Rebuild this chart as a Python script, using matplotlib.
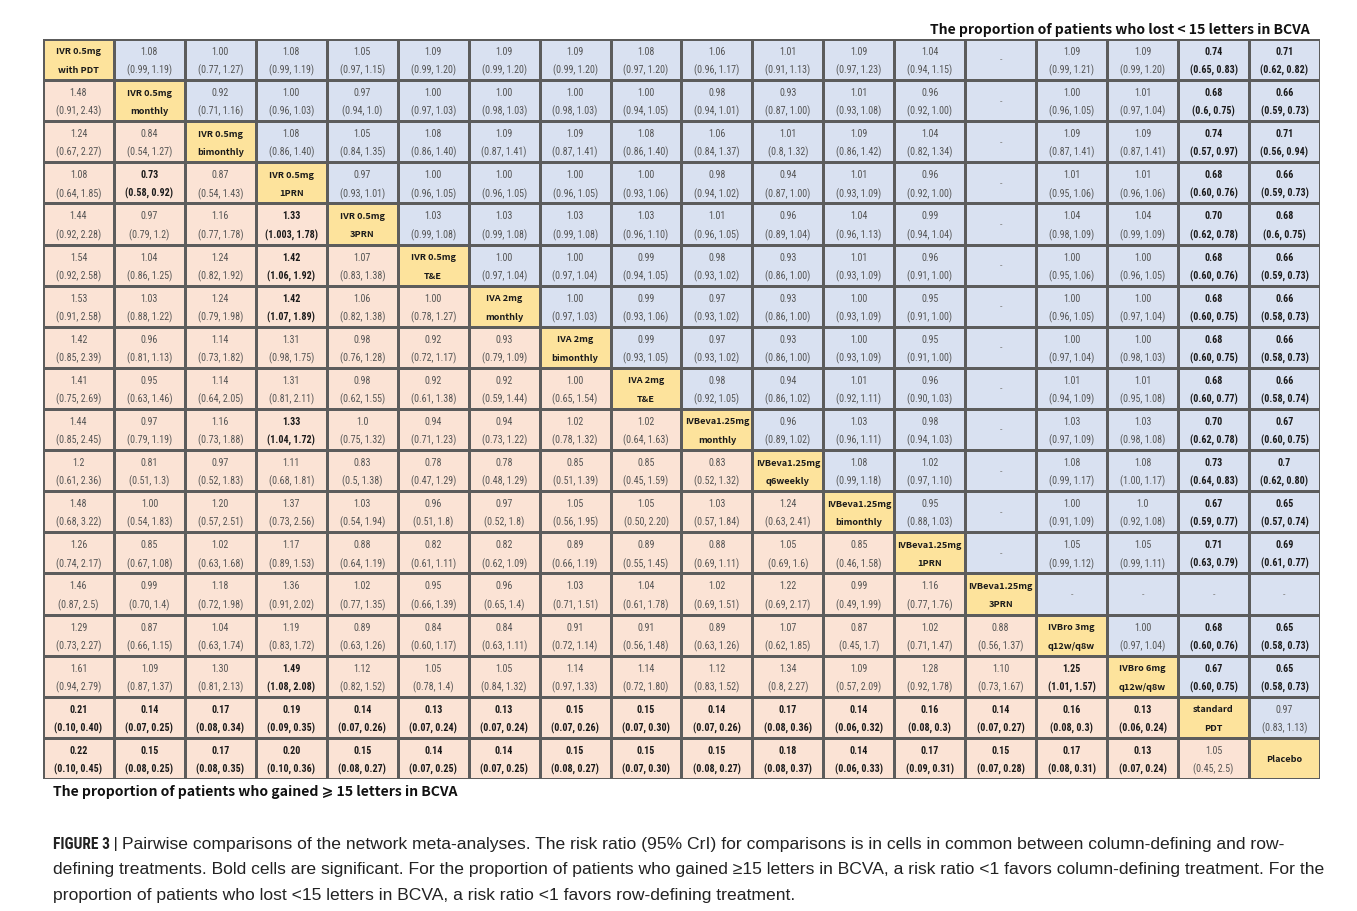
import numpy as np
import matplotlib
matplotlib.use("Agg")
import matplotlib.pyplot as plt
from matplotlib.colors import ListedColormap
from matplotlib import font_manager

# Treatments, in row/column order of the league table
treatments = [
    "IVR 0.5mg\nwith PDT", "IVR 0.5mg\nmonthly", "IVR 0.5mg\nbimonthly", "IVR 0.5mg\n1PRN",
    "IVR 0.5mg\n3PRN", "IVR 0.5mg\nT&E", "IVA 2mg\nmonthly", "IVA 2mg\nbimonthly",
    "IVA 2mg\nT&E", "IVBeva1.25mg\nmonthly", "IVBeva1.25mg\nq6weekly", "IVBeva1.25mg\nbimonthly",
    "IVBeva1.25mg\n1PRN", "IVBeva1.25mg\n3PRN", "IVBro 3mg\nq12w/q8w", "IVBro 6mg\nq12w/q8w",
    "standard\nPDT", "Placebo",
]

# Risk ratio "estimate,low,high"; "*" marks a significant result, "-" no estimate.
# Upper triangle: proportion of patients who lost < 15 letters (row i, columns i+1..)
lost_rr = [
    ["1.08,0.99,1.19", "1.00,0.77,1.27", "1.08,0.99,1.19", "1.05,0.97,1.15", "1.09,0.99,1.20", "1.09,0.99,1.20", "1.09,0.99,1.20", "1.08,0.97,1.20", "1.06,0.96,1.17", "1.01,0.91,1.13", "1.09,0.97,1.23", "1.04,0.94,1.15", "-", "1.09,0.99,1.21", "1.09,0.99,1.20", "*0.74,0.65,0.83", "*0.71,0.62,0.82"],
    ["0.92,0.71,1.16", "1.00,0.96,1.03", "0.97,0.94,1.0", "1.00,0.97,1.03", "1.00,0.98,1.03", "1.00,0.98,1.03", "1.00,0.94,1.05", "0.98,0.94,1.01", "0.93,0.87,1.00", "1.01,0.93,1.08", "0.96,0.92,1.00", "-", "1.00,0.96,1.05", "1.01,0.97,1.04", "*0.68,0.6,0.75", "*0.66,0.59,0.73"],
    ["1.08,0.86,1.40", "1.05,0.84,1.35", "1.08,0.86,1.40", "1.09,0.87,1.41", "1.09,0.87,1.41", "1.08,0.86,1.40", "1.06,0.84,1.37", "1.01,0.8,1.32", "1.09,0.86,1.42", "1.04,0.82,1.34", "-", "1.09,0.87,1.41", "1.09,0.87,1.41", "*0.74,0.57,0.97", "*0.71,0.56,0.94"],
    ["0.97,0.93,1.01", "1.00,0.96,1.05", "1.00,0.96,1.05", "1.00,0.96,1.05", "1.00,0.93,1.06", "0.98,0.94,1.02", "0.94,0.87,1.00", "1.01,0.93,1.09", "0.96,0.92,1.00", "-", "1.01,0.95,1.06", "1.01,0.96,1.06", "*0.68,0.60,0.76", "*0.66,0.59,0.73"],
    ["1.03,0.99,1.08", "1.03,0.99,1.08", "1.03,0.99,1.08", "1.03,0.96,1.10", "1.01,0.96,1.05", "0.96,0.89,1.04", "1.04,0.96,1.13", "0.99,0.94,1.04", "-", "1.04,0.98,1.09", "1.04,0.99,1.09", "*0.70,0.62,0.78", "*0.68,0.6,0.75"],
    ["1.00,0.97,1.04", "1.00,0.97,1.04", "0.99,0.94,1.05", "0.98,0.93,1.02", "0.93,0.86,1.00", "1.01,0.93,1.09", "0.96,0.91,1.00", "-", "1.00,0.95,1.06", "1.00,0.96,1.05", "*0.68,0.60,0.76", "*0.66,0.59,0.73"],
    ["1.00,0.97,1.03", "0.99,0.93,1.06", "0.97,0.93,1.02", "0.93,0.86,1.00", "1.00,0.93,1.09", "0.95,0.91,1.00", "-", "1.00,0.96,1.05", "1.00,0.97,1.04", "*0.68,0.60,0.75", "*0.66,0.58,0.73"],
    ["0.99,0.93,1.05", "0.97,0.93,1.02", "0.93,0.86,1.00", "1.00,0.93,1.09", "0.95,0.91,1.00", "-", "1.00,0.97,1.04", "1.00,0.98,1.03", "*0.68,0.60,0.75", "*0.66,0.58,0.73"],
    ["0.98,0.92,1.05", "0.94,0.86,1.02", "1.01,0.92,1.11", "0.96,0.90,1.03", "-", "1.01,0.94,1.09", "1.01,0.95,1.08", "*0.68,0.60,0.77", "*0.66,0.58,0.74"],
    ["0.96,0.89,1.02", "1.03,0.96,1.11", "0.98,0.94,1.03", "-", "1.03,0.97,1.09", "1.03,0.98,1.08", "*0.70,0.62,0.78", "*0.67,0.60,0.75"],
    ["1.08,0.99,1.18", "1.02,0.97,1.10", "-", "1.08,0.99,1.17", "1.08,1.00,1.17", "*0.73,0.64,0.83", "*0.7,0.62,0.80"],
    ["0.95,0.88,1.03", "-", "1.00,0.91,1.09", "1.0,0.92,1.08", "*0.67,0.59,0.77", "*0.65,0.57,0.74"],
    ["-", "1.05,0.99,1.12", "1.05,0.99,1.11", "*0.71,0.63,0.79", "*0.69,0.61,0.77"],
    ["-", "-", "-", "-"],
    ["1.00,0.97,1.04", "*0.68,0.60,0.76", "*0.65,0.58,0.73"],
    ["*0.67,0.60,0.75", "*0.65,0.58,0.73"],
    ["0.97,0.83,1.13"],
]

# Lower triangle: proportion of patients who gained >= 15 letters (row i, columns 0..i-1)
gained_rr = [
    [],
    ["1.48,0.91,2.43"],
    ["1.24,0.67,2.27", "0.84,0.54,1.27"],
    ["1.08,0.64,1.85", "*0.73,0.58,0.92", "0.87,0.54,1.43"],
    ["1.44,0.92,2.28", "0.97,0.79,1.2", "1.16,0.77,1.78", "*1.33,1.003,1.78"],
    ["1.54,0.92,2.58", "1.04,0.86,1.25", "1.24,0.82,1.92", "*1.42,1.06,1.92", "1.07,0.83,1.38"],
    ["1.53,0.91,2.58", "1.03,0.88,1.22", "1.24,0.79,1.98", "*1.42,1.07,1.89", "1.06,0.82,1.38", "1.00,0.78,1.27"],
    ["1.42,0.85,2.39", "0.96,0.81,1.13", "1.14,0.73,1.82", "1.31,0.98,1.75", "0.98,0.76,1.28", "0.92,0.72,1.17", "0.93,0.79,1.09"],
    ["1.41,0.75,2.69", "0.95,0.63,1.46", "1.14,0.64,2.05", "1.31,0.81,2.11", "0.98,0.62,1.55", "0.92,0.61,1.38", "0.92,0.59,1.44", "1.00,0.65,1.54"],
    ["1.44,0.85,2.45", "0.97,0.79,1.19", "1.16,0.73,1.88", "*1.33,1.04,1.72", "1.0,0.75,1.32", "0.94,0.71,1.23", "0.94,0.73,1.22", "1.02,0.78,1.32", "1.02,0.64,1.63"],
    ["1.2,0.61,2.36", "0.81,0.51,1.3", "0.97,0.52,1.83", "1.11,0.68,1.81", "0.83,0.5,1.38", "0.78,0.47,1.29", "0.78,0.48,1.29", "0.85,0.51,1.39", "0.85,0.45,1.59", "0.83,0.52,1.32"],
    ["1.48,0.68,3.22", "1.00,0.54,1.83", "1.20,0.57,2.51", "1.37,0.73,2.56", "1.03,0.54,1.94", "0.96,0.51,1.8", "0.97,0.52,1.8", "1.05,0.56,1.95", "1.05,0.50,2.20", "1.03,0.57,1.84", "1.24,0.63,2.41"],
    ["1.26,0.74,2.17", "0.85,0.67,1.08", "1.02,0.63,1.68", "1.17,0.89,1.53", "0.88,0.64,1.19", "0.82,0.61,1.11", "0.82,0.62,1.09", "0.89,0.66,1.19", "0.89,0.55,1.45", "0.88,0.69,1.11", "1.05,0.69,1.6", "0.85,0.46,1.58"],
    ["1.46,0.87,2.5", "0.99,0.70,1.4", "1.18,0.72,1.98", "1.36,0.91,2.02", "1.02,0.77,1.35", "0.95,0.66,1.39", "0.96,0.65,1.4", "1.03,0.71,1.51", "1.04,0.61,1.78", "1.02,0.69,1.51", "1.22,0.69,2.17", "0.99,0.49,1.99", "1.16,0.77,1.76"],
    ["1.29,0.73,2.27", "0.87,0.66,1.15", "1.04,0.63,1.74", "1.19,0.83,1.72", "0.89,0.63,1.26", "0.84,0.60,1.17", "0.84,0.63,1.11", "0.91,0.72,1.14", "0.91,0.56,1.48", "0.89,0.63,1.26", "1.07,0.62,1.85", "0.87,0.45,1.7", "1.02,0.71,1.47", "0.88,0.56,1.37"],
    ["1.61,0.94,2.79", "1.09,0.87,1.37", "1.30,0.81,2.13", "*1.49,1.08,2.08", "1.12,0.82,1.52", "1.05,0.78,1.4", "1.05,0.84,1.32", "1.14,0.97,1.33", "1.14,0.72,1.80", "1.12,0.83,1.52", "1.34,0.8,2.27", "1.09,0.57,2.09", "1.28,0.92,1.78", "1.10,0.73,1.67", "*1.25,1.01,1.57"],
    ["*0.21,0.10,0.40", "*0.14,0.07,0.25", "*0.17,0.08,0.34", "*0.19,0.09,0.35", "*0.14,0.07,0.26", "*0.13,0.07,0.24", "*0.13,0.07,0.24", "*0.15,0.07,0.26", "*0.15,0.07,0.30", "*0.14,0.07,0.26", "*0.17,0.08,0.36", "*0.14,0.06,0.32", "*0.16,0.08,0.3", "*0.14,0.07,0.27", "*0.16,0.08,0.3", "*0.13,0.06,0.24"],
    ["*0.22,0.10,0.45", "*0.15,0.08,0.25", "*0.17,0.08,0.35", "*0.20,0.10,0.36", "*0.15,0.08,0.27", "*0.14,0.07,0.25", "*0.14,0.07,0.25", "*0.15,0.08,0.27", "*0.15,0.07,0.30", "*0.15,0.08,0.27", "*0.18,0.08,0.37", "*0.14,0.06,0.33", "*0.17,0.09,0.31", "*0.15,0.07,0.28", "*0.17,0.08,0.31", "*0.13,0.07,0.24", "1.05,0.45,2.5"],
]

top_label = "The proportion of patients who lost < 15 letters in BCVA"
bottom_label = "The proportion of patients who gained \u2a7e 15 letters in BCVA"
caption_head = "FIGURE 3 |"
caption_lines = [
    "Pairwise comparisons of the network meta-analyses. The risk ratio (95% CrI) for comparisons is in cells in common between column-defining and row-",
    "defining treatments. Bold cells are significant. For the proportion of patients who gained \u226515 letters in BCVA, a risk ratio <1 favors column-defining treatment. For the",
    "proportion of patients who lost <15 letters in BCVA, a risk ratio <1 favors row-defining treatment.",
]

PINK, BLUE, YELLOW = "#fbe3d5", "#d9e1f1", "#fde39c"
GRID = "#5c5c5c"
NUM_COLOR, BOLD_COLOR = "#555555", "#1a1a1a"


def pick_number_font():
    """Prefer a narrow sans face for the cell numbers when one is installed."""
    fonts = font_manager.fontManager.ttflist
    names = {f.name for f in fonts}
    for name, size in [("Liberation Sans Narrow", 7.6), ("Arial Narrow", 7.6),
                       ("Roboto Condensed", 7.2), ("Open Sans Condensed", 7.2)]:
        if name in names:
            return name, "normal", size
    for f in fonts:
        if f.name in ("Roboto", "Noto Sans", "Open Sans") and f.stretch in ("condensed", "semi-condensed"):
            return f.name, f.stretch, 7.2
    return "Liberation Sans", "normal", 7.0


NUM_FONT, NUM_STRETCH, NUM_SIZE = pick_number_font()
LABEL_FONT = ["Noto Sans CJK SC", "DejaVu Sans"]

n = len(treatments)
fig = plt.figure(figsize=(13.57, 9.12), dpi=100)
fig.patch.set_facecolor("white")
ax = fig.add_axes([0.0317, 0.1447, 0.941, 0.8114])
ax.set_xlim(0, n)
ax.set_ylim(n, 0)
ax.axis("off")

# cell background: 0 lower (gained), 1 upper (lost), 2 diagonal
codes = np.zeros((n, n))
codes[np.triu_indices(n, 1)] = 1
codes[np.diag_indices(n)] = 2
ax.pcolormesh(np.arange(n + 1), np.arange(n + 1), codes,
              cmap=ListedColormap([PINK, BLUE, YELLOW]), vmin=-0.5, vmax=2.5,
              edgecolors=GRID, linewidth=0.8)


def draw_cell(i, j, entry):
    base = dict(ha="center", va="center", fontsize=NUM_SIZE, family=NUM_FONT,
                fontstretch=NUM_STRETCH)
    if entry == "-":
        ax.text(j + 0.5, i + 0.5, "-", color="#888888", **base)
        return
    bold = entry.startswith("*")
    est, lo, hi = entry.lstrip("*").split(",")
    kw = dict(base, fontweight="bold" if bold else "normal",
              color=BOLD_COLOR if bold else NUM_COLOR)
    ax.text(j + 0.5, i + 0.29, est, **kw)
    ax.text(j + 0.5, i + 0.74, f"({lo}, {hi})", **kw)


for i, row in enumerate(lost_rr):
    for k, entry in enumerate(row):
        draw_cell(i, i + 1 + k, entry)
for i, row in enumerate(gained_rr):
    for j, entry in enumerate(row):
        draw_cell(i, j, entry)

for i, name in enumerate(treatments):
    parts = name.split("\n")
    kw = dict(ha="center", va="center", fontsize=6.6, family=LABEL_FONT,
              fontweight="bold", color=BOLD_COLOR)
    if len(parts) == 1:
        ax.text(i + 0.5, i + 0.5, parts[0], **kw)
    else:
        ax.text(i + 0.5, i + 0.29, parts[0], **kw)
        ax.text(i + 0.5, i + 0.74, parts[1], **kw)

fig.text(0.9655, 0.967, top_label, ha="right", va="center", fontsize=10.1,
         family=LABEL_FONT, fontweight="bold", color="#111111")
fig.text(0.039, 0.1316, bottom_label, ha="left", va="center", fontsize=10.1,
         family=LABEL_FONT, fontweight="bold", color="#111111")

# caption below the table: narrow bold figure number, then the running text
CAP_SIZE = 12.6
cap_y = [0.0735, 0.0461, 0.0186]
head = fig.text(0.039, cap_y[0], caption_head, ha="left", va="center",
                fontsize=11.2, family=NUM_FONT, fontstretch=NUM_STRETCH,
                fontweight="bold", color="#222222")
fig.canvas.draw()
bb = head.get_window_extent()
x_after = (bb.x1 + 4) / fig.bbox.width
fig.text(x_after, cap_y[0], caption_lines[0], ha="left", va="center",
         fontsize=CAP_SIZE, family="Liberation Sans", color="#222222")
for y, line in zip(cap_y[1:], caption_lines[1:]):
    fig.text(0.039, y, line, ha="left", va="center", fontsize=CAP_SIZE,
             family="Liberation Sans", color="#222222")

fig.savefig("out.png", dpi=100, facecolor="white")
